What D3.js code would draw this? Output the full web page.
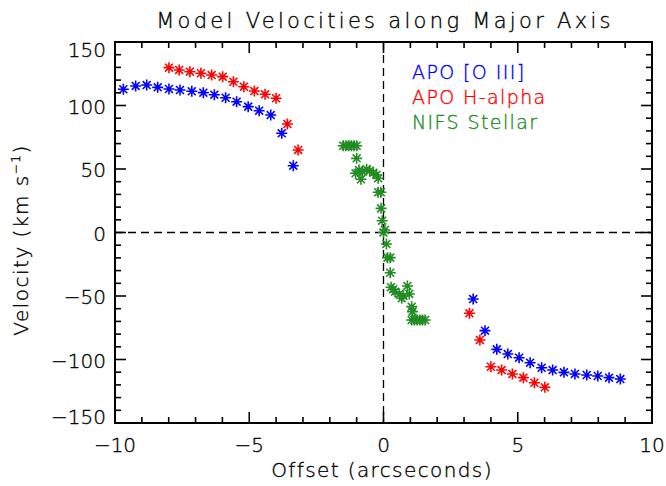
<!DOCTYPE html>
<html>
<head>
<meta charset="utf-8">
<script src="https://cdn.jsdelivr.net/npm/d3@7"></script>
<style>
  body { margin: 0; background: #fff; }
  text { font-family: "DejaVu Sans", sans-serif; font-weight: 200; stroke-width: 0.35; }
</style>
</head>
<body>
<svg id="chart" width="666" height="486"></svg>
<script>
// APO [O III] (blue)
const oiiiOffset = [-9.69, -9.23, -8.82, -8.41, -7.99, -7.58, -7.14, -6.71, -6.30, -5.88, -5.47, -5.04, -4.63, -4.20, -3.79, -3.36,
  3.34, 3.78, 4.22, 4.63, 5.05, 5.46, 5.89, 6.30, 6.72, 7.13, 7.57, 7.98, 8.40, 8.82];
const oiiiVel = [112.8, 115.4, 116.1, 114.3, 113, 112.2, 111.2, 110.1, 108.5, 106.1, 103, 99.1, 95.9, 92.5, 78.1, 52.6,
  -52.4, -77.3, -92, -95.7, -98.6, -102.5, -106.5, -108.3, -110.1, -111.4, -112.2, -113, -114.3, -115.4];

// APO H-alpha (red)
const haOffset = [-7.99, -7.61, -7.21, -6.80, -6.40, -5.99, -5.59, -5.20, -4.81, -4.41, -4.00, -3.58, -3.18,
  3.20, 3.59, 4.00, 4.40, 4.80, 5.21, 5.62, 6.01];
const haVel = [129.8, 128, 126.6, 125.4, 124, 122.7, 118.7, 114.8, 111.4, 108.8, 105.7, 85.4, 65.0,
  -63.6, -84.6, -105.7, -108.3, -111.4, -114.3, -118.3, -121.9];

// NIFS Stellar (green)
const nifsOffset = [-1.5, -1.4, -1.3, -1.2, -1.1, -1.0, -1.0,
  -1.04, -0.91, -0.78, -0.63, -0.51, -0.38, -0.26, -0.20, -0.84,
  -0.2, -0.1, -0.09, -0.05, 0.0, 0.05, 0.11, 0.15, 0.25, 0.25,
  0.28, 0.43, 0.59, 0.74, 0.89, 0.96, 0.68, 0.36, 1.05, 1.08,
  1.05, 1.15, 1.25, 1.35, 1.45, 1.55];
const nifsVel = [68.3, 68.3, 68.3, 68.3, 68.3, 68.3, 58.4,
  46.6, 49.2, 47.9, 49.8, 48.7, 47.1, 45.3, 42.7, 41.9,
  31.7, 31.7, 19, 9.3, 0, 2, -9, -19.8, -19.8, -31.7,
  -43.1, -46.6, -48.4, -50, -42.1, -48.4, -51.8, -44.7, -58.4, -62.3,
  -68.9, -68.9, -68.9, -68.9, -68.9, -68.9];

const xMajor = [-10, -5, 0, 5, 10];
const yMajor = [-150, -100, -50, 0, 50, 100, 150];
const legendLabels = ["APO [O III]", "APO H-alpha", "NIFS Stellar"];
const legendColors = ["#0000ff", "#ff0000", "#228b22"];

const svg = d3.select("#chart");
const pLeft = 115, pRight = 652, pTop = 42, pBottom = 423;

const x = d3.scaleLinear().domain([-10, 10]).range([pLeft, pRight]);
const y = d3.scaleLinear().domain([-150, 150]).range([pBottom, pTop]);

// zero lines
svg.append("line")
  .attr("x1", x(0)).attr("x2", x(0)).attr("y1", pTop).attr("y2", pBottom)
  .attr("stroke", "#000").attr("stroke-width", 1.3).attr("stroke-dasharray", "8,5");
svg.append("line")
  .attr("x1", pLeft).attr("x2", pRight).attr("y1", y(0)).attr("y2", y(0))
  .attr("stroke", "#000").attr("stroke-width", 1.3).attr("stroke-dasharray", "8,5");

// asterisk markers (IDL psym=2 style)
function drawStars(xs, ys, color) {
  const s = 5.5, d = s * 0.72;
  const g = svg.append("g").attr("stroke", color).attr("stroke-width", 1.6);
  xs.forEach((xv, i) => {
    const cx = x(xv), cy = y(ys[i]);
    const p = `M${cx - s},${cy}L${cx + s},${cy}M${cx},${cy - s}L${cx},${cy + s}` +
      `M${cx - d},${cy - d}L${cx + d},${cy + d}M${cx - d},${cy + d}L${cx + d},${cy - d}`;
    g.append("path").attr("d", p).attr("fill", "none");
  });
}
drawStars(oiiiOffset, oiiiVel, legendColors[0]);
drawStars(haOffset, haVel, legendColors[1]);
drawStars(nifsOffset, nifsVel, legendColors[2]);

// frame
svg.append("rect")
  .attr("x", pLeft).attr("y", pTop).attr("width", pRight - pLeft).attr("height", pBottom - pTop)
  .attr("fill", "none").attr("stroke", "#000").attr("stroke-width", 2);

// ticks on all four sides, pointing inward
const ticks = svg.append("g").attr("stroke", "#000").attr("stroke-width", 1.6);
d3.range(-10, 11, 1).forEach(v => {
  const len = v % 5 === 0 ? 11 : 6;
  ticks.append("line").attr("x1", x(v)).attr("x2", x(v)).attr("y1", pBottom).attr("y2", pBottom - len);
  ticks.append("line").attr("x1", x(v)).attr("x2", x(v)).attr("y1", pTop).attr("y2", pTop + len);
});
d3.range(-150, 151, 10).forEach(v => {
  const len = v % 50 === 0 ? 11 : 6;
  ticks.append("line").attr("y1", y(v)).attr("y2", y(v)).attr("x1", pLeft).attr("x2", pLeft + len);
  ticks.append("line").attr("y1", y(v)).attr("y2", y(v)).attr("x1", pRight).attr("x2", pRight - len);
});

const fmt = v => (v < 0 ? "\u2212" + Math.abs(v) : "" + v);

svg.append("g").attr("fill", "#000").attr("stroke", "#000")
  .selectAll("text").data(xMajor).join("text")
  .attr("x", d => x(d)).attr("y", pBottom + 29)
  .attr("text-anchor", "middle").attr("font-size", 20)
  .text(fmt);

svg.append("g").attr("fill", "#000").attr("stroke", "#000")
  .selectAll("text").data(yMajor).join("text")
  .attr("x", pLeft - 9)
  .attr("y", d => y(d) + 8 + (d === 150 ? 7 : d === -150 ? -7 : 0))
  .attr("text-anchor", "end").attr("font-size", 20)
  .text(fmt);

// titles
svg.append("text").attr("x", 385).attr("y", 28).attr("text-anchor", "middle")
  .attr("fill", "#000").attr("stroke", "#000")
  .attr("font-size", 21).attr("letter-spacing", 3.3)
  .text("Model Velocities along Major Axis");
svg.append("text").attr("x", 382).attr("y", 477).attr("text-anchor", "middle")
  .attr("fill", "#000").attr("stroke", "#000")
  .attr("font-size", 20).attr("letter-spacing", 1.4)
  .text("Offset (arcseconds)");
const yt = svg.append("text")
  .attr("transform", `translate(28,240) rotate(-90)`)
  .attr("fill", "#000").attr("stroke", "#000")
  .attr("text-anchor", "middle").attr("font-size", 20).attr("letter-spacing", 1.5);
yt.append("tspan").text("Velocity (km s");
yt.append("tspan").attr("dy", -8).attr("font-size", 12).text("\u22121");
yt.append("tspan").attr("dy", 8).text(")");

// legend
svg.append("g").selectAll("text").data(legendLabels).join("text")
  .attr("x", 412).attr("y", (d, i) => 79 + i * 25)
  .attr("font-size", 19).attr("letter-spacing", 1.4)
  .attr("fill", (d, i) => legendColors[i])
  .attr("stroke", (d, i) => legendColors[i])
  .text(d => d);
</script>
</body>
</html>
